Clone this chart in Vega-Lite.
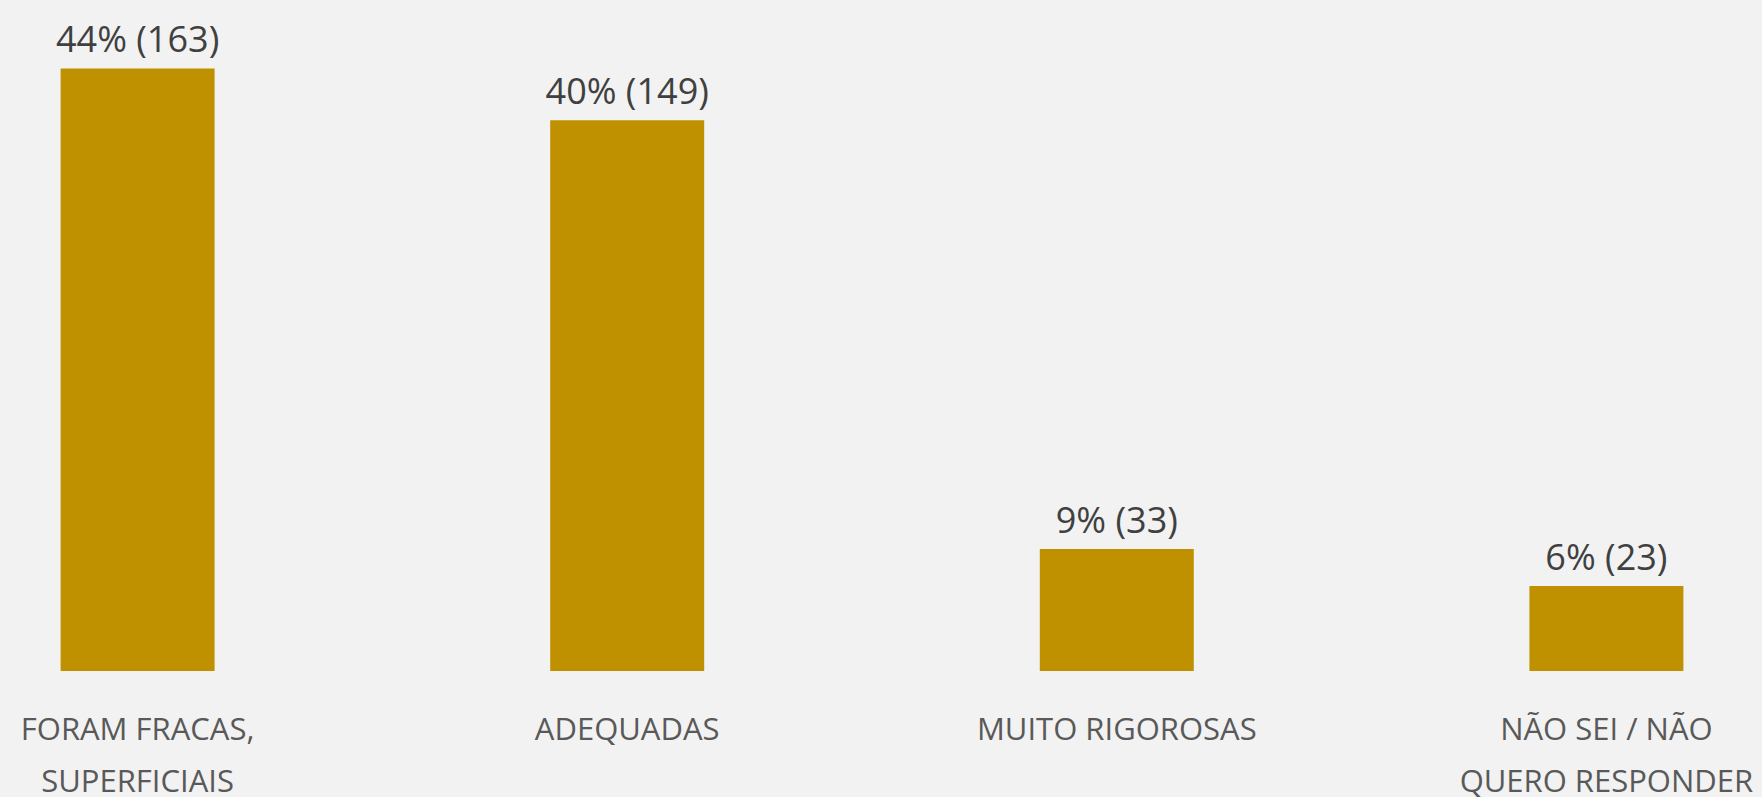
{
  "$schema": "https://vega.github.io/schema/vega-lite/v6.json",
  "autosize": {"type": "none"},
  "padding": {"left": 0, "top": 0, "right": 18, "bottom": 126},
  "width": 1744,
  "height": 671,
  "background": "#F2F2F2",
  "config": {"view": {"stroke": null}},
  "data": {"values": [
    {"category": "Foram fracas,|superficiais", "count": 163, "pct": 44, "label": "44% (163)"},
    {"category": "Adequadas", "count": 149, "pct": 40, "label": "40% (149)"},
    {"category": "Muito rigorosas", "count": 33, "pct": 9, "label": "9% (33)"},
    {"category": "Não sei / não|quero responder", "count": 23, "pct": 6, "label": "6% (23)"}
  ]},
  "encoding": {
    "x": {
      "field": "category", "type": "nominal", "sort": null,
      "scale": {"paddingInner": 0.6855, "paddingOuter": 0.1238},
      "axis": {
        "title": null, "domain": false, "ticks": false, "labelAngle": 0,
        "labelExpr": "split(upper(datum.label), '|')",
        "labelFont": "Open Sans", "labelFontSize": 31, "labelColor": "#595959",
        "labelBaseline": "alphabetic", "labelPadding": 68, "labelLineHeight": 52,
        "labelLimit": 0
      }
    },
    "y": {
      "field": "count", "type": "quantitative",
      "scale": {"domain": [0, 181.5], "nice": false},
      "axis": null
    }
  },
  "layer": [
    {"mark": {"type": "bar", "color": "#BF9000"}},
    {"mark": {"type": "text", "font": "Open Sans", "fontSize": 36, "color": "#404040", "baseline": "alphabetic", "dy": -16},
     "encoding": {"text": {"field": "label"}}}
  ]
}
